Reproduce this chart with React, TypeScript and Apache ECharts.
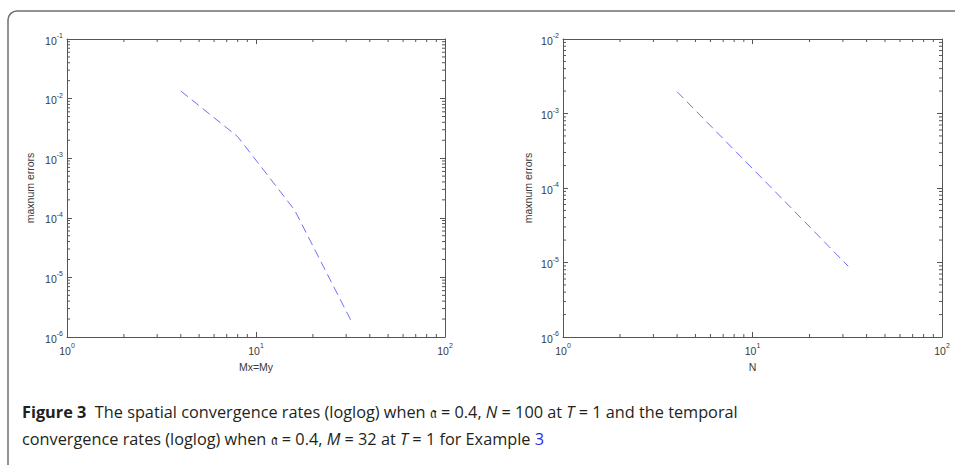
import React, { useEffect, useRef } from 'react';
import * as echarts from 'echarts';

// ---- data ----
const spatialSizes = [4, 8, 16, 32]; // Mx = My
const spatialErrors = [1.34e-2, 2.3e-3, 1.35e-4, 1.82e-6];
const temporalSteps = [4, 8, 16, 32]; // N
const temporalErrors = [1.96e-3, 3.25e-4, 5.4e-5, 8.9e-6];

const xRange = [1, 100];
const leftYRange = [1e-6, 1e-1];
const rightYRange = [1e-6, 1e-2];

const leftXName = 'Mx=My';
const rightXName = 'N';
const yName = 'maxnum errors';

const captionLine1 =
  '{b|Figure 3}  The spatial convergence rates (loglog) when 𝔞 = 0.4, {i|N} = 100 at {i|T} = 1 and the temporal';
const captionLine2 =
  'convergence rates (loglog) when 𝔞 = 0.4, {i|M} = 32 at {i|T} = 1 for Example {l|3}';

function minorValues(lo: number, hi: number): number[] {
  const out: number[] = [];
  for (let d = lo; d < hi * 0.999; d *= 10) {
    for (let m = 2; m <= 9; m++) out.push(+(m * d).toPrecision(3));
  }
  return out;
}

const AXIS_COLOR = '#555';
const LABEL_COLOR = '#3a3a3a';
const LINE_COLOR = '#6f6fff';
const CAPTION_COLOR = '#231f20';
const CAPTION_SIZE = 16.3;

const powLabel = (v: number) => {
  const e = Math.round(Math.log10(v));
  return `{b|10}{s|${e}}`;
};

const labelRich = {
  b: { fontSize: 10.5, fontFamily: 'Liberation Sans', color: LABEL_COLOR, lineHeight: 14, verticalAlign: 'bottom' },
  s: { fontSize: 7, fontFamily: 'Liberation Sans', color: LABEL_COLOR, lineHeight: 8, verticalAlign: 'top' },
};

function makeAxes(gridIndex: number, yr: number[], xName: string, yGap: number) {
  const xAxes = [
    {
      type: 'log', logBase: 10, gridIndex, min: xRange[0], max: xRange[1], position: 'bottom',
      name: xName, nameLocation: 'middle', nameGap: 24,
      nameTextStyle: { fontSize: 10.5, fontFamily: 'Liberation Sans', color: LABEL_COLOR },
      axisLine: { show: true, lineStyle: { color: AXIS_COLOR, width: 1 } },
      axisTick: { show: true, inside: true, length: 5, lineStyle: { color: AXIS_COLOR } },
      axisLabel: { show: true, margin: 5, formatter: powLabel, rich: labelRich },
      splitLine: { show: false },
    },
    {
      type: 'log', logBase: 10, gridIndex, min: xRange[0], max: xRange[1], position: 'top',
      axisLine: { show: true, lineStyle: { color: AXIS_COLOR, width: 1 } },
      axisTick: { show: true, inside: true, length: 5, lineStyle: { color: AXIS_COLOR } },
      axisLabel: { show: false },
      splitLine: { show: false },
    },
  ];
  const yAxes = [
    {
      type: 'log', logBase: 10, gridIndex, min: yr[0], max: yr[1], position: 'left',
      name: yName, nameLocation: 'middle', nameGap: yGap, nameRotate: 90,
      nameTextStyle: { fontSize: 10.5, fontFamily: 'Liberation Sans', color: LABEL_COLOR },
      axisLine: { show: true, lineStyle: { color: AXIS_COLOR, width: 1 } },
      axisTick: { show: true, inside: true, length: 5, lineStyle: { color: AXIS_COLOR } },
      axisLabel: { show: true, margin: 4, formatter: powLabel, rich: labelRich },
      splitLine: { show: false },
    },
    {
      type: 'log', logBase: 10, gridIndex, min: yr[0], max: yr[1], position: 'right',
      axisLine: { show: true, lineStyle: { color: AXIS_COLOR, width: 1 } },
      axisTick: { show: true, inside: true, length: 5, lineStyle: { color: AXIS_COLOR } },
      axisLabel: { show: false },
      splitLine: { show: false },
    },
  ];
  return { xAxes, yAxes };
}

function minorTickSeries(axisIdx: number, yr: number[]) {
  const xData = minorValues(xRange[0], xRange[1]).map((v) => [v, yr[0], yr[1]]);
  const yData = minorValues(yr[0], yr[1]).map((v) => [xRange[0], xRange[1], v]);
  const tick = (x1: number, y1: number, x2: number, y2: number) => ({
    type: 'line', shape: { x1, y1, x2, y2 }, style: { stroke: AXIS_COLOR, lineWidth: 1 },
  });
  return [
    {
      type: 'custom', xAxisIndex: axisIdx, yAxisIndex: axisIdx, silent: true, clip: false,
      encode: { x: 0, y: [1, 2] }, data: xData,
      renderItem: (_p: any, api: any) => {
        const a = api.coord([api.value(0), api.value(1)]);
        const b = api.coord([api.value(0), api.value(2)]);
        return { type: 'group', children: [tick(a[0], a[1], a[0], a[1] - 3), tick(b[0], b[1], b[0], b[1] + 3)] };
      },
    },
    {
      type: 'custom', xAxisIndex: axisIdx, yAxisIndex: axisIdx, silent: true, clip: false,
      encode: { x: [0, 1], y: 2 }, data: yData,
      renderItem: (_p: any, api: any) => {
        const a = api.coord([api.value(0), api.value(2)]);
        const b = api.coord([api.value(1), api.value(2)]);
        return { type: 'group', children: [tick(a[0], a[1], a[0] + 3, a[1]), tick(b[0], b[1], b[0] - 3, b[1])] };
      },
    },
  ];
}

export default function App() {
  const ref = useRef<HTMLDivElement>(null);
  useEffect(() => {
    if (!ref.current) return;
    const chart = echarts.init(ref.current, null, { renderer: 'svg' });
    const L = makeAxes(0, leftYRange, leftXName, 32);
    const R = makeAxes(1, rightYRange, rightXName, 30);
    const font = `${CAPTION_SIZE}px "Open Sans"`;
    const captionRich = {
      b: { fontWeight: 'bold', fontSize: CAPTION_SIZE, fontFamily: 'Open Sans', fill: CAPTION_COLOR },
      i: { fontStyle: 'italic', fontSize: CAPTION_SIZE, fontFamily: 'Open Sans', fill: CAPTION_COLOR },
      l: { fontSize: CAPTION_SIZE, fontFamily: 'Open Sans', fill: '#2a2aee' },
    };
    chart.setOption({
      animation: false,
      backgroundColor: '#fff',
      grid: [
        { left: 67, top: 39, width: 378, height: 298 },
        { left: 563, top: 39, width: 379, height: 298 },
      ],
      xAxis: [...L.xAxes, ...R.xAxes],
      yAxis: [...L.yAxes, ...R.yAxes],
      series: [
        {
          type: 'line', xAxisIndex: 0, yAxisIndex: 0, showSymbol: false, silent: true,
          data: spatialSizes.map((x, i) => [x, spatialErrors[i]]),
          lineStyle: { color: LINE_COLOR, width: 1, type: [9, 5] },
        },
        {
          type: 'line', xAxisIndex: 2, yAxisIndex: 2, showSymbol: false, silent: true,
          data: temporalSteps.map((x, i) => [x, temporalErrors[i]]),
          lineStyle: { color: LINE_COLOR, width: 1, type: [9, 5] },
        },
        ...minorTickSeries(0, leftYRange),
        ...minorTickSeries(2, rightYRange),
      ],
      graphic: [
        {
          type: 'rect', shape: { x: 8, y: 11, width: 980, height: 480, r: 9 },
          style: { fill: 'none', stroke: '#707070', lineWidth: 1.5 }, silent: true,
        },
        {
          type: 'text', x: 22, y: 412,
          style: { text: captionLine1, rich: captionRich, font, fill: CAPTION_COLOR, verticalAlign: 'middle' },
        },
        {
          type: 'text', x: 22, y: 439,
          style: { text: captionLine2, rich: captionRich, font, fill: CAPTION_COLOR, verticalAlign: 'middle' },
        },
      ],
    });
    return () => chart.dispose();
  }, []);
  return <div ref={ref} style={{ position: 'fixed', left: 0, top: 0, width: 955, height: 465 }} />;
}
